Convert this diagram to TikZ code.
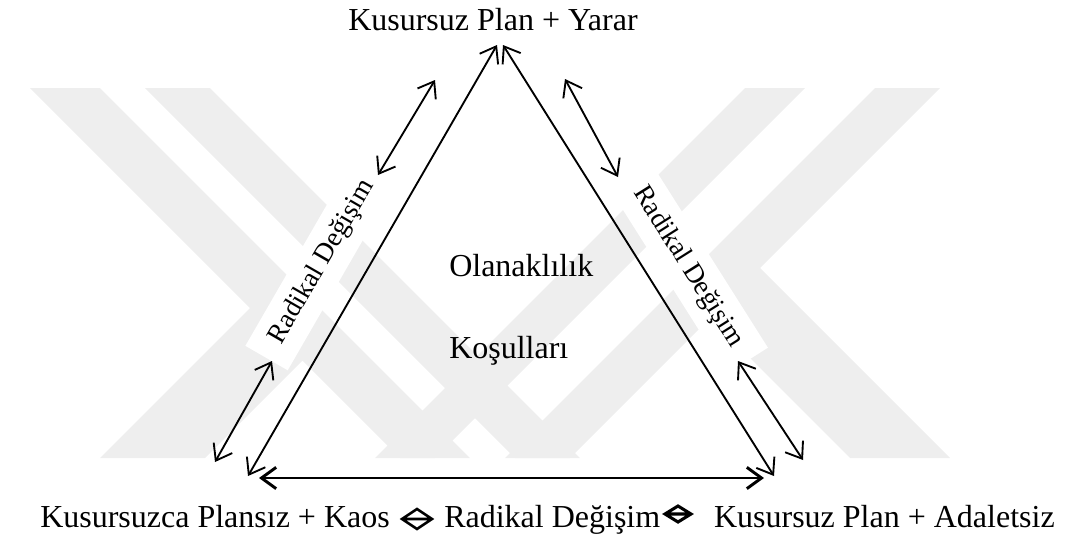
\documentclass[tikz,border=0pt]{standalone}
\usepackage{fontspec}
\setmainfont{Liberation Serif}
\usepackage{xcolor}
\usetikzlibrary{calc,arrows.meta}
\definecolor{wmark}{HTML}{EEEEEE}
\tikzset{
  barb/.tip={Straight Barb[length=11pt,width=16pt]},
  edge/.style={draw=black, line width=1.4pt, barb-barb},
  thick edge/.style={edge, line width=2.2pt},
  wm/.style={fill=wmark},
  lab/.style={font=\fontsize{24}{28}\selectfont, inner sep=0pt},
  rot/.style={font=\fontsize{20.5}{24}\selectfont, fill=white, inner xsep=14pt, inner ysep=9pt},
  eqv/.style={draw=black, line width=1.9pt, line join=miter},
}

\begin{document}
\begin{tikzpicture}[x=0.75pt,y=-0.75pt]
  \useasboundingbox (0,0) rectangle (1068,536);

  % watermark
  \fill[wm] (30,88) -- (100,88) -- (470,458) -- (400,458) -- cycle;
  \fill[wm] (145,88) -- (210,88) -- (580,458) -- (515,458) -- cycle;
  \fill[wm] (745,88) -- (805,88) -- (435,458) -- (375,458) -- cycle;
  \fill[wm] (875,88) -- (940,88) -- (570,458) -- (505,458) -- cycle;
  \fill[wm] (100,458) -- (205,458) -- (337.5,325.5) -- (250,308) -- cycle;
  \fill[wm] (850,458) -- (950,458) -- (760,268) -- (677.5,285.5) -- cycle;

  % corners
  \coordinate (apexL) at (497,45);
  \coordinate (apexR) at (503,45);
  \coordinate (cornL) at (248,476);
  \coordinate (cornR) at (774,476);
  \coordinate (botL) at (259,478);
  \coordinate (botR) at (764,478);

  % side labels
  \node[rot, rotate=60] (radL) at (322,262) {Radikal Değişim};
  \node[rot, rotate=-57.7] (radR) at (688,267) {Radikal Değişim};

  % triangle
  \draw[edge] (cornL) -- (apexL);
  \draw[edge] (apexR) -- (cornR);
  \draw[thick edge] (botL) -- (botR);

  % outer arrows
  \coordinate (lu1) at (435,80);
  \coordinate (lu2) at (378,175);
  \coordinate (ll1) at (272,361);
  \coordinate (ll2) at (215,462);
  \coordinate (ru1) at (565,79);
  \coordinate (ru2) at (618,177);
  \coordinate (rl1) at (738,361);
  \coordinate (rl2) at (803,460);
  \draw[edge] (lu1) -- (lu2);
  \draw[edge] (ll1) -- (ll2);
  \draw[edge] (ru1) -- (ru2);
  \draw[edge] (rl1) -- (rl2);

  % texts
  \node[lab, anchor=base] (top) at (493,30) {Kusursuz Plan + Yarar};
  \node[lab, anchor=base west] (olan) at (449,276) {Olanaklılık};
  \node[lab, anchor=base west] (kosul) at (449,358) {Koşulları};
  \node[lab, anchor=base west] (kaos) at (40,527) {Kusursuzca Plansız + Kaos};
  \node[lab, anchor=base west] (radB) at (444,527) {Radikal Değişim};
  \node[lab, anchor=base east] (adlt) at (1055,527) {Kusursuz Plan + Adaletsiz};

  % double arrow signs
  \coordinate (eq1) at (417,519);
  \coordinate (eq2) at (678,514);
  \draw[eqv, shift={(eq1)}] (-15,0) -- (0,-10) -- (15,0) -- (0,10) -- cycle (-15,0) -- (15,0);
  \draw[eqv, line width=2.3pt, shift={(eq2)}] (-13,0) -- (0,-8) -- (13,0) -- (0,8) -- cycle (-13,0) -- (13,0);
\end{tikzpicture}
\end{document}
